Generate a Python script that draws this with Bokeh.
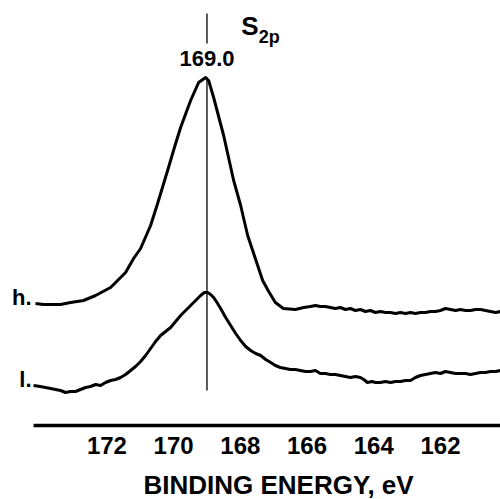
from bokeh.plotting import figure
from bokeh.models import Range1d, FixedTicker, Label, Title
from bokeh.embed import file_html
from bokeh.resources import INLINE

# ---- data (binding energy in eV, intensity in arbitrary units) ----
h_energy = [174.14, 173.90, 173.69, 173.39, 173.09, 172.70, 172.34, 171.89, 171.44, 171.20,
            170.99, 170.69, 170.48, 170.18, 169.94, 169.79, 169.49, 169.25, 169.04, 168.95,
            168.80, 168.50, 168.20, 167.99, 167.78, 167.63, 167.48, 167.33, 167.15, 166.95,
            166.71, 166.35, 166.10, 165.90, 165.75, 165.60, 165.45, 165.30, 165.15, 165.00,
            164.85, 164.70, 164.55, 164.40, 164.25, 164.10, 163.95, 163.80, 163.65, 163.50,
            163.35, 163.20, 163.05, 162.90, 162.75, 162.60, 162.45, 162.30, 162.15, 162.00,
            161.85, 161.70, 161.55, 161.40, 161.25, 161.10, 160.95, 160.80, 160.65, 160.50,
            160.35, 160.20]
h_counts = [121, 120, 120, 120, 122, 124, 129, 137, 152, 166,
            176, 199, 221, 254, 281, 297, 324, 342, 347, 344,
            327, 289, 244, 219, 189, 174, 159, 144, 133, 122,
            116, 115, 117, 118, 119, 118, 118, 117, 116, 117,
            115, 116, 114, 115, 113, 114, 112, 113, 112, 112,
            111, 112, 111, 112, 111, 112, 112, 113, 113, 114,
            116, 115, 114, 115, 114, 114, 115, 115, 114, 113,
            112, 113]

l_energy = [174.20, 174.00, 173.84, 173.69, 173.54, 173.39, 173.24, 173.09, 172.94, 172.79,
            172.64, 172.49, 172.34, 172.19, 172.04, 171.89, 171.74, 171.59, 171.44, 171.29,
            171.14, 170.99, 170.84, 170.69, 170.54, 170.39, 170.24, 170.09, 169.94, 169.79,
            169.64, 169.49, 169.34, 169.19, 169.08, 168.98, 168.89, 168.80, 168.70, 168.59,
            168.44, 168.29, 168.14, 167.99, 167.84, 167.69, 167.54, 167.39, 167.24, 167.09,
            166.95, 166.80, 166.65, 166.50, 166.35, 166.20, 166.05, 165.90, 165.75, 165.60,
            165.45, 165.30, 165.15, 165.00, 164.85, 164.70, 164.55, 164.40, 164.30, 164.19,
            164.05, 163.95, 163.80, 163.65, 163.50, 163.35, 163.20, 163.05, 162.90, 162.75,
            162.60, 162.45, 162.30, 162.15, 162.00, 161.85, 161.70, 161.55, 161.40, 161.25,
            161.10, 160.95, 160.80, 160.65, 160.50, 160.35, 160.20]
l_counts = [39, 38, 37, 36, 35, 34, 32, 33, 33, 35,
            37, 38, 40, 39, 42, 44, 45, 47, 50, 54,
            58, 63, 69, 76, 83, 89, 93, 97, 103, 109,
            114, 119, 124, 129, 132, 132, 130, 127, 122, 116,
            107, 99, 91, 84, 78, 74, 71, 69, 65, 62,
            59, 57, 56, 55, 55, 54, 53, 53, 54, 51,
            51, 50, 50, 49, 48, 47, 48, 47, 45, 42,
            43, 42, 42, 43, 42, 43, 43, 44, 44, 47,
            49, 50, 51, 52, 51, 53, 52, 51, 51, 51,
            50, 51, 52, 52, 53, 53, 54]

tick_values = [172, 170, 168, 166, 164, 162]
axis_start, axis_end = 174.2, 160.2
axis_level = -1
peak_energy = 169.0
peak_label = "169.0"
curve_names = ["h.", "l."]
x_title = "BINDING ENERGY, eV"

FONT = "Liberation Sans"

p = figure(width=500, height=499, output_backend="svg", toolbar_location=None,
           x_range=Range1d(175.19, 160.2), y_range=Range1d(-43, 424),
           y_axis_location=None, min_border_left=0, min_border_right=0,
           min_border_top=0, min_border_bottom=32)
p.grid.visible = False
p.outline_line_color = None
p.background_fill_color = "white"
p.border_fill_color = "white"

ax = p.xaxis[0]
ax.fixed_location = axis_level
ax.ticker = FixedTicker(ticks=tick_values)
ax.axis_line_color = None
ax.major_tick_line_color = None
ax.minor_tick_line_color = None
ax.major_tick_out = 0
ax.major_tick_in = 0
ax.minor_tick_out = 0
ax.major_label_standoff = 11
ax.major_label_text_font = FONT
ax.major_label_text_font_style = "bold"
ax.major_label_text_font_size = "24px"
ax.major_label_text_color = "black"

p.add_layout(Title(text=x_title, align="left", offset=143, standoff=0,
                   vertical_align="bottom",
                   text_font=FONT, text_font_style="bold", text_font_size="26px",
                   text_color="black"), "below")

# axis base line
p.segment(x0=[axis_start], y0=[axis_level], x1=[axis_end], y1=[axis_level],
          line_color="black", line_width=3.5)

# reference line at the peak position
p.segment(x0=[peak_energy, peak_energy], y0=[34, 381], x1=[peak_energy, peak_energy], y1=[347, 411],
          line_color="black", line_width=1.3)

# spectra
p.line(h_energy, h_counts, line_color="black", line_width=3, line_join="round")
p.line(l_energy, l_counts, line_color="black", line_width=3, line_join="round")

# annotations
def lab(x, y, text, size, align):
    p.add_layout(Label(x=x, y=y, text=text, text_align=align, text_baseline="alphabetic",
                       text_font=FONT, text_font_style="bold", text_font_size=size,
                       text_color="black"))

lab(peak_energy, 366, peak_label, "22px", "center")
lab(167.45, 399, "S", "26px", "right")
lab(167.45, 388, "2p", "18px", "left")
lab(174.26, 127, curve_names[0], "22px", "right")
lab(174.26, 45, curve_names[1], "22px", "right")

open("out.html", "w").write(file_html(p, INLINE))
